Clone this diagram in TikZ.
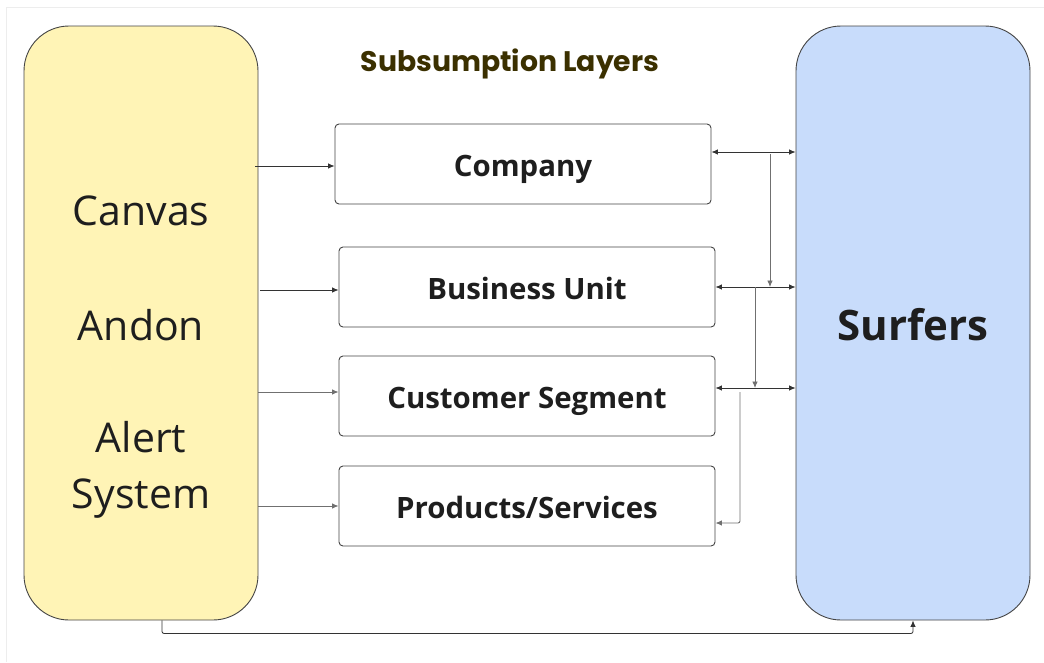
\documentclass[tikz,border=0pt]{standalone}
\usepackage{fontspec}
\setmainfont{Open Sans}
\newfontfamily\titlefont{Poppins}
\usetikzlibrary{arrows.meta,calc}

\definecolor{padyellow}{HTML}{FFF4B6}
\definecolor{padblue}{HTML}{C8DCFB}
\definecolor{edge}{HTML}{444444}
\definecolor{wire}{HTML}{333333}
\definecolor{wirelight}{HTML}{707070}
\definecolor{titleink}{HTML}{3B3000}
\definecolor{ink}{HTML}{1E1E1E}

\tikzset{
  pillar/.style={draw=edge, line width=0.9pt, rounded corners=45pt,
    minimum width=234pt, minimum height=594pt, inner sep=0pt},
  layerbox/.style={draw=edge, line width=0.9pt, rounded corners=4pt,
    minimum width=376pt, minimum height=80pt, inner sep=0pt,
    text height=25pt, text depth=0pt,
    text=ink, font=\fontsize{29.4}{32}\selectfont\bfseries},
  sidetext/.style={text=ink, inner sep=0pt, anchor=base,
    font=\fontsize{41}{46}\selectfont},
  tip/.style={-{Latex[length=6.5pt,width=5.5pt]}},
  dbltip/.style={{Latex[length=6.5pt,width=5.5pt]}-{Latex[length=6.5pt,width=5.5pt]}},
  wireline/.style={draw=wire, line width=0.8pt},
  wirelight/.style={draw=wirelight, line width=0.9pt},
}

\begin{document}
\begin{tikzpicture}[x=1pt,y=-1pt]
  \useasboundingbox (0,0) rectangle (1044,662);
  \fill[white] (0,0) rectangle (1044,662);
  % thin page frame
  \draw[black!7, line width=0.6pt] (6,662) -- (6,7) -- (1044,7);

  % side pillars
  \node[pillar, fill=padyellow] (left) at (141,323) {};
  \node[pillar, fill=padblue] (right) at (913,323) {};

  \node[sidetext] (canvas) at (141,225.5) {Canvas};
  \node[sidetext] (andon)  at (141,340.5) {Andon};
  \node[sidetext] (alert)  at (141,452.5) {Alert};
  \node[sidetext] (system) at (141,508.5) {System};
  \node[text=ink, inner sep=0pt, font=\fontsize{42}{46}\selectfont\bfseries]
    (surfers) at (913,325) {Surfers};

  % title
  \node[text=titleink, inner sep=0pt, font=\titlefont\fontsize{28.3}{32}\selectfont\bfseries]
    (title) at (510,64) {Subsumption Layers};

  % layers
  \node[layerbox] (comp) at (523,164) {Company};
  \node[layerbox] (bu)   at (527,287) {Business Unit};
  \node[layerbox] (cs)   at (527,396) {Customer Segment};
  \node[layerbox] (ps)   at (527,506) {Products/Services};

  % inputs from the left pillar
  \draw[wireline, tip] ([xshift=-3pt]left.east |- 0,166) -- (comp.west |- 0,166);
  \draw[wireline, tip] ([xshift=2pt]left.east |- 0,290) -- (bu.west |- 0,290);
  \draw[wirelight, tip] (left.east |- 0,392) -- (cs.west |- 0,392);
  \draw[wirelight, tip] (left.east |- 0,506) -- (ps.west);

  % links to the right pillar
  \coordinate (ca) at ([yshift=12pt]comp.east);
  \coordinate (ba) at (bu.east);
  \coordinate (sa) at ([yshift=8pt]cs.east);
  \coordinate (pa) at ([yshift=-17pt]ps.east);

  \draw[wireline, dbltip] (ca) -- (right.west |- ca);
  \draw[wireline, dbltip] (ba) -- (right.west |- ba);
  \draw[wireline, dbltip] (sa) -- (right.west |- sa);

  % cascade down the layers
  \coordinate (c1) at (770,154);
  \coordinate (c2) at (755,287);
  \coordinate (c3) at (740,392);
  \draw[wirelight, tip] (c1) -- (c1 |- ba);
  \draw[wirelight, tip] (c2) -- (c2 |- sa);
  \draw[wirelight, tip, rounded corners=2pt] (c3) -- (c3 |- pa) -- (pa);

  % feedback along the bottom
  \draw[wireline, tip, rounded corners=2pt]
    ([xshift=21pt]left.south) -- ++(0,13) -| (right.south);
\end{tikzpicture}
\end{document}
